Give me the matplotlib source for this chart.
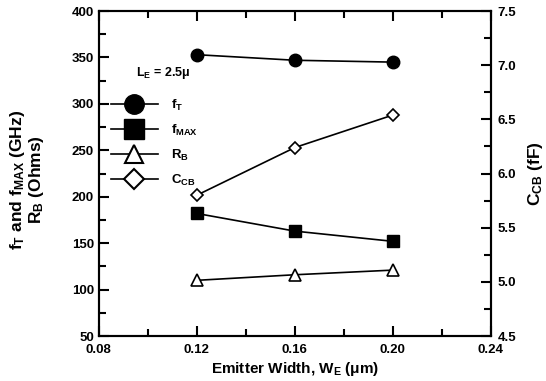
import matplotlib
matplotlib.use("Agg")
import matplotlib.pyplot as plt
from matplotlib.lines import Line2D
from matplotlib.ticker import MultipleLocator, FormatStrFormatter

plt.rcParams["font.family"] = ["Liberation Sans", "DejaVu Sans"]
plt.rcParams["font.weight"] = "bold"
plt.rcParams["mathtext.fontset"] = "custom"
plt.rcParams["mathtext.rm"] = "Liberation Sans:bold"
plt.rcParams["mathtext.it"] = "Liberation Sans:bold"
plt.rcParams["mathtext.bf"] = "Liberation Sans:bold"
plt.rcParams["mathtext.default"] = "rm"

# Data
width = [0.12, 0.16, 0.20]
f_t = [353, 347, 345]
f_max = [182, 163, 152]
r_b = [110, 116, 121]
c_cb = [5.80, 6.24, 6.54]

x_ticks = [0.08, 0.12, 0.16, 0.20, 0.24]
x_ticklabels = ["0.08", "0.12", "0.16", "0.20", "0.24"]

fig = plt.figure(figsize=(5.46, 3.81), dpi=100)
ax = fig.add_axes([0.181, 0.118, 0.718, 0.853])
ax2 = ax.twinx()

lw = 1.2
ax.plot(width, f_t, color="black", lw=lw, marker="o", ms=9, mfc="black", mec="black")
ax.plot(width, f_max, color="black", lw=lw, marker="s", ms=9, mfc="black", mec="black")
ax.plot(width, r_b, color="black", lw=lw, marker="^", ms=9, mfc="white", mec="black", mew=1.2)
ax2.plot(width, c_cb, color="black", lw=lw, marker="D", ms=6.5, mfc="white", mec="black", mew=1.2)

ax.set_xlim(0.08, 0.24)
ax.set_ylim(50, 400)
ax2.set_ylim(4.5, 7.5)
ax.set_xticks(x_ticks)
ax.set_xticklabels(x_ticklabels)
ax.xaxis.set_minor_locator(MultipleLocator(0.02))
ax.yaxis.set_major_locator(MultipleLocator(50))
ax.yaxis.set_minor_locator(MultipleLocator(25))
ax2.yaxis.set_major_locator(MultipleLocator(0.5))
ax2.yaxis.set_minor_locator(MultipleLocator(0.25))
ax2.yaxis.set_major_formatter(FormatStrFormatter("%.1f"))

ax.tick_params(axis="both", which="both", direction="in", width=1.5, labelsize=9.5, top=True)
ax.tick_params(which="major", length=7)
ax.tick_params(which="minor", length=5)
ax.tick_params(axis="x", pad=6)
ax2.tick_params(which="both", direction="in", width=1.5, labelsize=9.5, pad=5)
ax2.tick_params(which="major", length=7)
ax2.tick_params(which="minor", length=5)
for a in (ax, ax2):
    for s in a.spines.values():
        s.set_linewidth(1.5)

ax.set_xlabel(r"Emitter Width, W$_E$ ($\mathrm{\mu}$m)", fontsize=11, fontweight="bold")
ax.xaxis.set_label_coords(0.5, -0.075)
ax.set_ylabel("f$_T$ and f$_{MAX}$ (GHz)\nR$_B$ (Ohms)", fontsize=12.5, fontweight="bold", linespacing=1.0)
ax.yaxis.set_label_coords(-0.135, 0.48)
ax2.set_ylabel("C$_{CB}$ (fF)", fontsize=12.5, fontweight="bold")
ax2.yaxis.set_label_coords(1.09, 0.5)

ax.text(0.095, 0.80, "L$_E$ = 2.5μ", transform=ax.transAxes, fontsize=9, fontweight="bold")

handles = [
    Line2D([], [], color="black", lw=lw, marker="o", ms=14, mfc="black", mec="black"),
    Line2D([], [], color="black", lw=lw, marker="s", ms=14, mfc="black", mec="black"),
    Line2D([], [], color="black", lw=lw, marker="^", ms=13, mfc="white", mec="black", mew=1.5),
    Line2D([], [], color="black", lw=lw, marker="D", ms=10, mfc="white", mec="black", mew=1.5),
]
labels = ["f$_T$", "f$_{MAX}$", "R$_B$", "C$_{CB}$"]
ax.legend(handles, labels, loc="upper left", bbox_to_anchor=(0.0, 0.77), frameon=False,
          handlelength=3.6, labelspacing=0.75, handletextpad=1.0, borderaxespad=0.5,
          prop={"size": 9.5, "weight": "bold"})

plt.savefig("out.png", dpi=100)
